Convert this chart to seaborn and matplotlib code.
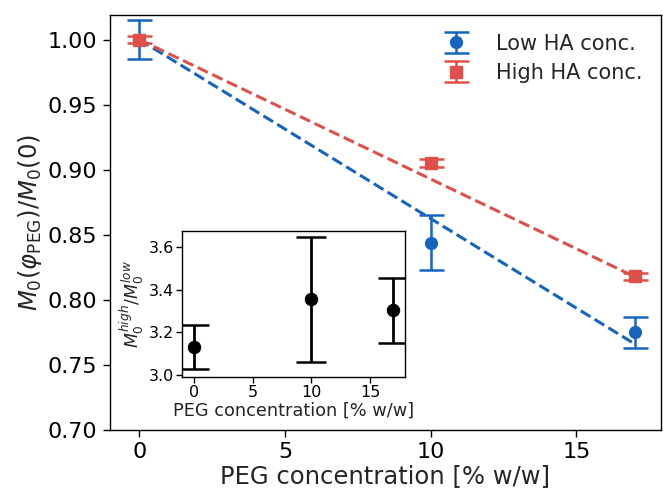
import numpy as np
import pandas as pd
import matplotlib
matplotlib.use("Agg")
import matplotlib.pyplot as plt
import seaborn as sns

### Data

peg = [0, 10, 17]

low_ha = [1.000, 0.844, 0.775]
low_ha_err = [0.015, 0.021, 0.012]

high_ha = [1.000, 0.905, 0.818]
high_ha_err = [0.003, 0.003, 0.003]

# slopes of the dashed fits (intercept 1 at 0 % PEG)
slope_low = -0.01376
slope_high = -0.01072

# inset: ratio M0 high / M0 low
ratio = [3.13, 3.355, 3.303]
ratio_err = [0.105, 0.295, 0.152]

blue = "#1565c0"
red = "#e0504a"

### Style

sns.set_style("ticks")
plt.rcParams["font.family"] = ["DejaVu Sans"]
plt.rcParams["mathtext.fontset"] = "dejavusans"

fig = plt.figure(figsize=(6.63, 4.94), dpi=100)
ax = fig.add_axes([0.166, 0.1296, 0.831, 0.8404])

## fitted lines
fit_x = np.array([peg[0], peg[-1]])
df_fit = pd.DataFrame({
    "peg": np.concatenate([fit_x, fit_x]),
    "value": np.concatenate([1 + slope_low * fit_x, 1 + slope_high * fit_x]),
    "series": ["low"] * 2 + ["high"] * 2,
})
sns.lineplot(data=df_fit, x="peg", y="value", hue="series",
             palette={"low": blue, "high": red}, linestyle="--",
             linewidth=2.2, legend=False, ax=ax)

## points with errorbars
ax.errorbar(peg, low_ha, yerr=low_ha_err, fmt="o", color=blue, markersize=8.5,
            capsize=9, elinewidth=1.8, capthick=1.8, label="Low HA conc.", zorder=3)
ax.errorbar(peg, high_ha, yerr=high_ha_err, fmt="s", color=red, markersize=8.5,
            capsize=9, elinewidth=1.8, capthick=1.8, label="High HA conc.", zorder=3)

ax.set_xlim(-1, 17.9)
ax.set_ylim(0.70, 1.019)
ax.set_xticks([0, 5, 10, 15])
ax.set_yticks(np.arange(0.70, 1.001, 0.05))
ax.yaxis.set_major_formatter(matplotlib.ticker.FormatStrFormatter("%.2f"))
ax.tick_params(labelsize=16, length=5, width=1, colors="black", pad=4)
ax.set_xlabel("PEG concentration [% w/w]", fontsize=17.5, labelpad=1)
ax.set_ylabel(r"$M_0(\varphi_{\rm PEG})/M_0(0)$", fontsize=17.5, labelpad=3)
for s in ax.spines.values():
    s.set_color("black")
    s.set_linewidth(1)

ax.legend(loc="upper right", frameon=False, fontsize=15, handletextpad=0.9,
          borderaxespad=0.5, labelspacing=0.45)

## inset
axin = fig.add_axes([0.275, 0.2375, 0.336, 0.2945])
df_ratio = pd.DataFrame({"peg": peg, "ratio": ratio})
axin.errorbar(peg, ratio, yerr=ratio_err, fmt="none", ecolor="black",
              capsize=11, elinewidth=2, capthick=1.8)
sns.scatterplot(data=df_ratio, x="peg", y="ratio", color="black", s=80,
                edgecolor="black", ax=axin, zorder=3)
axin.set_xlim(-1.03, 18.0)
axin.set_ylim(2.99, 3.677)
axin.set_xticks([0, 5, 10, 15])
axin.set_yticks([3.0, 3.2, 3.4, 3.6])
axin.yaxis.set_major_formatter(matplotlib.ticker.FormatStrFormatter("%.1f"))
axin.tick_params(labelsize=11.5, length=4, width=1, colors="black", pad=2)
axin.set_xlabel("PEG concentration [% w/w]", fontsize=12.8, labelpad=1)
axin.set_ylabel(r"$M_0^{high}/M_0^{low}$", fontsize=12.5, labelpad=2)
for s in axin.spines.values():
    s.set_color("black")
    s.set_linewidth(1)

fig.savefig("out.png", dpi=100)
